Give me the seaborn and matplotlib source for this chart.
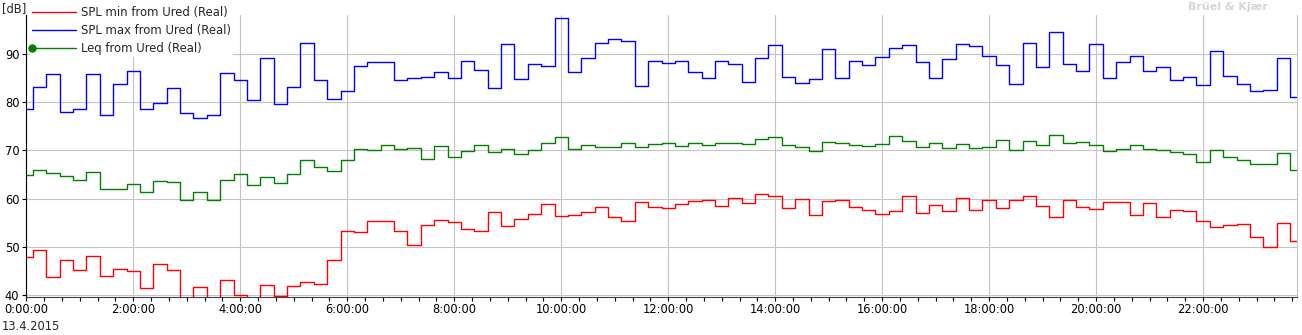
import numpy as np
import pandas as pd
import matplotlib
matplotlib.use("Agg")
import matplotlib.pyplot as plt
import seaborn as sns
from matplotlib.lines import Line2D
from matplotlib.legend_handler import HandlerLine2D
from matplotlib.ticker import MultipleLocator, FuncFormatter

# 15-minute samples, 0:00 .. 23:45 (13.4.2015)
hours = np.arange(96) * 0.25

spl_max = [78.6, 83.1, 85.9, 77.9, 78.6, 85.9, 77.3, 83.7, 86.5, 78.6, 79.9, 83.0,
           77.7, 76.7, 77.3, 86.0, 84.6, 80.4, 89.1, 79.6, 83.1, 92.2, 84.6, 80.6,
           82.3, 87.4, 88.3, 88.3, 84.6, 85.0, 85.2, 86.2, 85.0, 88.5, 86.6, 82.9,
           92.0, 84.8, 87.9, 87.4, 97.4, 86.3, 89.1, 92.2, 93.0, 92.6, 83.3, 88.5,
           88.1, 88.5, 86.3, 85.0, 88.5, 87.9, 84.1, 89.1, 91.8, 85.2, 83.9, 84.8,
           91.0, 85.0, 88.5, 87.7, 89.3, 91.2, 91.8, 88.3, 85.0, 88.9, 92.0, 91.6,
           89.5, 87.7, 83.7, 92.2, 87.2, 94.5, 87.9, 86.4, 92.0, 85.0, 88.3, 89.5,
           86.4, 87.2, 84.6, 85.2, 83.5, 90.6, 85.4, 83.7, 82.3, 82.5, 89.1, 81.0]

leq = [65.0, 65.9, 65.4, 64.8, 63.9, 65.5, 62.1, 62.1, 63.1, 61.4, 63.7, 63.4,
       59.8, 61.4, 59.8, 63.9, 65.1, 62.8, 64.5, 63.2, 65.2, 68.0, 66.6, 65.7,
       68.0, 70.2, 70.1, 71.1, 70.3, 70.6, 68.2, 70.9, 68.7, 69.9, 71.1, 69.7,
       70.2, 69.2, 70.1, 71.5, 72.8, 70.3, 71.1, 70.8, 70.8, 71.5, 70.8, 71.3,
       71.5, 70.9, 71.5, 71.1, 71.5, 71.5, 71.3, 72.3, 72.8, 71.1, 70.7, 69.9,
       71.7, 71.5, 71.1, 70.9, 71.3, 73.0, 71.9, 70.7, 71.5, 70.5, 71.3, 70.5,
       70.7, 72.1, 70.1, 71.9, 71.1, 73.2, 71.5, 71.7, 71.1, 69.9, 70.3, 71.1,
       70.3, 70.1, 69.7, 69.3, 67.6, 70.1, 68.7, 68.0, 67.2, 67.2, 69.4, 65.9]

spl_min = [47.9, 49.4, 43.8, 47.4, 45.3, 48.1, 44.0, 45.5, 45.0, 41.6, 46.5, 45.2,
           37.5, 41.7, 38.5, 43.2, 40.0, 38.0, 42.1, 39.8, 42.0, 42.8, 42.3, 47.3,
           53.4, 53.1, 55.4, 55.4, 53.4, 50.4, 54.6, 55.6, 55.2, 53.7, 53.4, 57.2,
           54.3, 55.8, 56.8, 58.9, 56.4, 56.6, 57.2, 58.3, 56.2, 55.4, 59.3, 58.3,
           58.1, 58.9, 59.5, 59.7, 58.5, 60.1, 59.1, 61.0, 60.6, 58.1, 59.9, 56.6,
           59.5, 59.7, 58.3, 57.7, 56.8, 57.4, 60.6, 57.0, 58.7, 57.4, 60.1, 57.7,
           59.7, 58.1, 59.7, 60.6, 58.5, 56.2, 59.7, 58.3, 57.9, 59.3, 59.3, 56.6,
           59.1, 56.2, 57.7, 57.4, 55.4, 54.1, 54.6, 54.8, 52.1, 50.0, 55.0, 51.3]

series_names = ["SPL min from Ured (Real)", "SPL max from Ured (Real)", "Leq from Ured (Real)"]
series_colors = ["#ff0000", "#0000ff", "#008000"]
y_ticks = [40, 50, 60, 70, 80, 90]
date_label = "13.4.2015"
unit_label = "[dB]"

df = pd.DataFrame({
    "t": np.concatenate([hours, hours, hours]),
    "dB": spl_min + spl_max + leq,
    "series": [series_names[0]] * 96 + [series_names[1]] * 96 + [series_names[2]] * 96,
})

sns.set_theme(style="white")
plt.rcParams["font.family"] = ["DejaVu Sans"]

fig = plt.figure(figsize=(13.02, 3.35), dpi=100)
ax = fig.add_axes([26.3 / 1302, 1 - 296.5 / 335, (1296.7 - 26.3) / 1302, (296.5 - 15) / 335])

sns.lineplot(data=df, x="t", y="dB", hue="series", hue_order=series_names,
             palette=dict(zip(series_names, series_colors)), estimator=None,
             drawstyle="steps-mid", linewidth=1.0, legend=False, ax=ax)

ax.set_xlim(0, 23.75)
ax.set_ylim(39.75, 98.05)
ax.set_xlabel("")
ax.set_ylabel("")
ax.xaxis.set_major_locator(MultipleLocator(2))
ax.xaxis.set_minor_locator(MultipleLocator(1 / 3))
ax.xaxis.set_major_formatter(FuncFormatter(lambda v, p: f"{int(round(v))}:00:00"))
ax.set_yticks(y_ticks)
ax.grid(True, which="major", color="#c4c4c4", linewidth=0.8)
ax.set_axisbelow(True)
ax.tick_params(axis="both", which="both", direction="out", length=3, width=0.8,
               colors="black", labelsize=8.3, pad=2, bottom=True, left=True)
ax.tick_params(axis="x", which="minor", length=3)
ax.spines["top"].set_visible(False)
ax.spines["right"].set_color("#c4c4c4")
ax.spines["left"].set_color("black")
ax.spines["bottom"].set_color("#404040")
for s in ["left", "bottom", "right"]:
    ax.spines[s].set_linewidth(0.8)


class StartMarker(HandlerLine2D):
    def create_artists(self, *args, **kwargs):
        arts = super().create_artists(*args, **kwargs)
        for a in arts:
            a.set_markevery([0])
        return arts


handles = [Line2D([], [], color=series_colors[0], lw=1.0),
           Line2D([], [], color=series_colors[1], lw=1.0),
           Line2D([], [], color=series_colors[2], lw=1.0, marker="o", markersize=5)]
leg = ax.legend(handles, series_names, loc="upper left",
                bbox_to_anchor=(30.0 / 1302, 1 - 3.8 / 335), bbox_transform=fig.transFigure,
                frameon=True, fancybox=False, edgecolor="none", facecolor="white",
                framealpha=1, fontsize=8.4, handlelength=3.75, handletextpad=0.42,
                labelspacing=0.41, borderpad=0.2, borderaxespad=0,
                handler_map={handles[2]: StartMarker()})

fig.text(2 / 1302, 1 - 8.5 / 335, unit_label, fontsize=8.3, va="center", ha="left")
fig.text(2 / 1302, 1 - 327 / 335, date_label, fontsize=8.3, va="center", ha="left")
fig.text(1268 / 1302, 1 - 7 / 335, "Brüel & Kjær", fontsize=8, fontweight="bold",
         color="#d6d6d6", va="center", ha="right")

fig.savefig("out.png", dpi=100)
